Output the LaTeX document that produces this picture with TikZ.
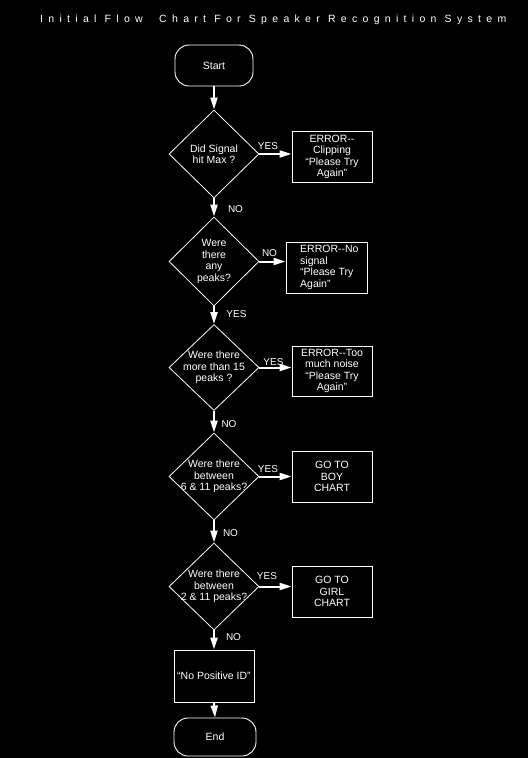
\documentclass[tikz,border=0pt]{standalone}
\usepackage{fontspec}
\setmainfont{Liberation Sans}
\usetikzlibrary{shapes.geometric,arrows.meta}
\begin{document}
\begin{tikzpicture}[x=1pt,y=-1pt,
  every node/.style={text=white, font=\fontsize{10.5}{11.5}\selectfont},
  term/.style={draw=white, line width=0.9pt, rounded corners=14pt, minimum width=78pt, minimum height=41pt, inner sep=0pt},
  dia/.style={draw=white, line width=0.8pt, diamond, minimum width=90pt, minimum height=88pt, inner sep=0pt},
  box/.style={draw=white, line width=0.9pt, rectangle, minimum width=80pt, minimum height=51pt, inner sep=0pt, align=center},
  dtext/.style={align=center, inner sep=0pt},
  lab/.style={font=\fontsize{10}{11}\selectfont, inner sep=0pt},
  arr/.style={draw=white, line width=2pt, -{Triangle[length=12pt,width=7pt]}}
]
\useasboundingbox (0,0) rectangle (528,758);
\fill[black] (0,0) rectangle (528,758);

\node[anchor=base west, inner sep=0pt, font=\fontsize{10.5}{12}\selectfont\addfontfeatures{LetterSpace=50.5}] (title) at (40,22.5) {Initial Flow\ \ Chart For Speaker Recognition System};

% terminals
\node[term] (start) at (214,65.5) {Start};
\node[term, minimum width=82pt, minimum height=38pt] (end) at (215,737) {End};

% diamonds
\node[dia] (d1) at (214,154) {};
\node[dtext] (t1) at (d1) {Did Signal\\hit Max ?};
\node[dia, minimum height=89pt] (d2) at (214,261.5) {};
\node[dtext] (t2) at (d2) {Were\\there\\any\\peaks?};
\node[dia, minimum height=86pt] (d3) at (214,367.5) {};
\node[dtext] (t3) at (d3) {Were there\\more than 15\\peaks ?};
\node[dia, minimum height=87pt] (d4) at (214,476.5) {};
\node[dtext] (t4) at (d4) {Were there\\between\\6 \& 11 peaks?};
\node[dia, minimum height=87pt] (d5) at (214,586.5) {};
\node[dtext] (t5) at (d5) {Were there\\between\\2 \& 11 peaks?};

% result boxes
\node[box] (b1) at (332,157) {ERROR-{}-\\Clipping\\“Please Try\\Again”};
\node[box, minimum width=81pt] (b2) at (326.5,267.5) {};
\node[dtext, anchor=west, align=left] (t6) at (300,267.5) {ERROR-{}-No\\signal\\“Please Try\\Again”};
\node[box, minimum height=50pt] (b3) at (332,371) {ERROR-{}-Too\\much noise\\“Please Try\\Again”};
\node[box] (b4) at (332,476.5) {GO TO\\BOY\\CHART};
\node[box] (b5) at (332,591.5) {GO TO\\GIRL\\CHART};
\node[box, minimum height=52pt] (np) at (214,676) {“No Positive ID”};

% connectors
\draw[arr] (start.south) -- (d1.north);
\draw[arr] (d1.south) -- (d2.north);
\draw[arr] (d2.south) -- (d3.north);
\draw[arr] (d3.south) -- (d4.north);
\draw[arr] (d4.south) -- (d5.north);
\draw[arr] (d5.south) -- (np.north);
\draw[arr] (np.south) -- (end.north);
\draw[arr] (d1.east) -- (d1.east -| b1.west);
\draw[arr] (d2.east) -- (d2.east -| b2.west);
\draw[arr] (d3.east) -- (d3.east -| b3.west);
\draw[arr] (d4.east) -- (d4.east -| b4.west);
\draw[arr] (d5.east) -- (d5.east -| b5.west);

% labels
\node[lab] (l1) at (268,146) {YES};
\node[lab] (l2) at (235.5,209) {NO};
\node[lab] (l3) at (269.5,253.5) {NO};
\node[lab] (l4) at (236.5,314.5) {YES};
\node[lab] (l5) at (273.5,362.5) {YES};
\node[lab] (l6) at (229,424) {NO};
\node[lab] (l7) at (268,469.5) {YES};
\node[lab] (l8) at (230.5,533) {NO};
\node[lab] (l9) at (267,576) {YES};
\node[lab] (l10) at (233.5,637.5) {NO};
\end{tikzpicture}
\end{document}
